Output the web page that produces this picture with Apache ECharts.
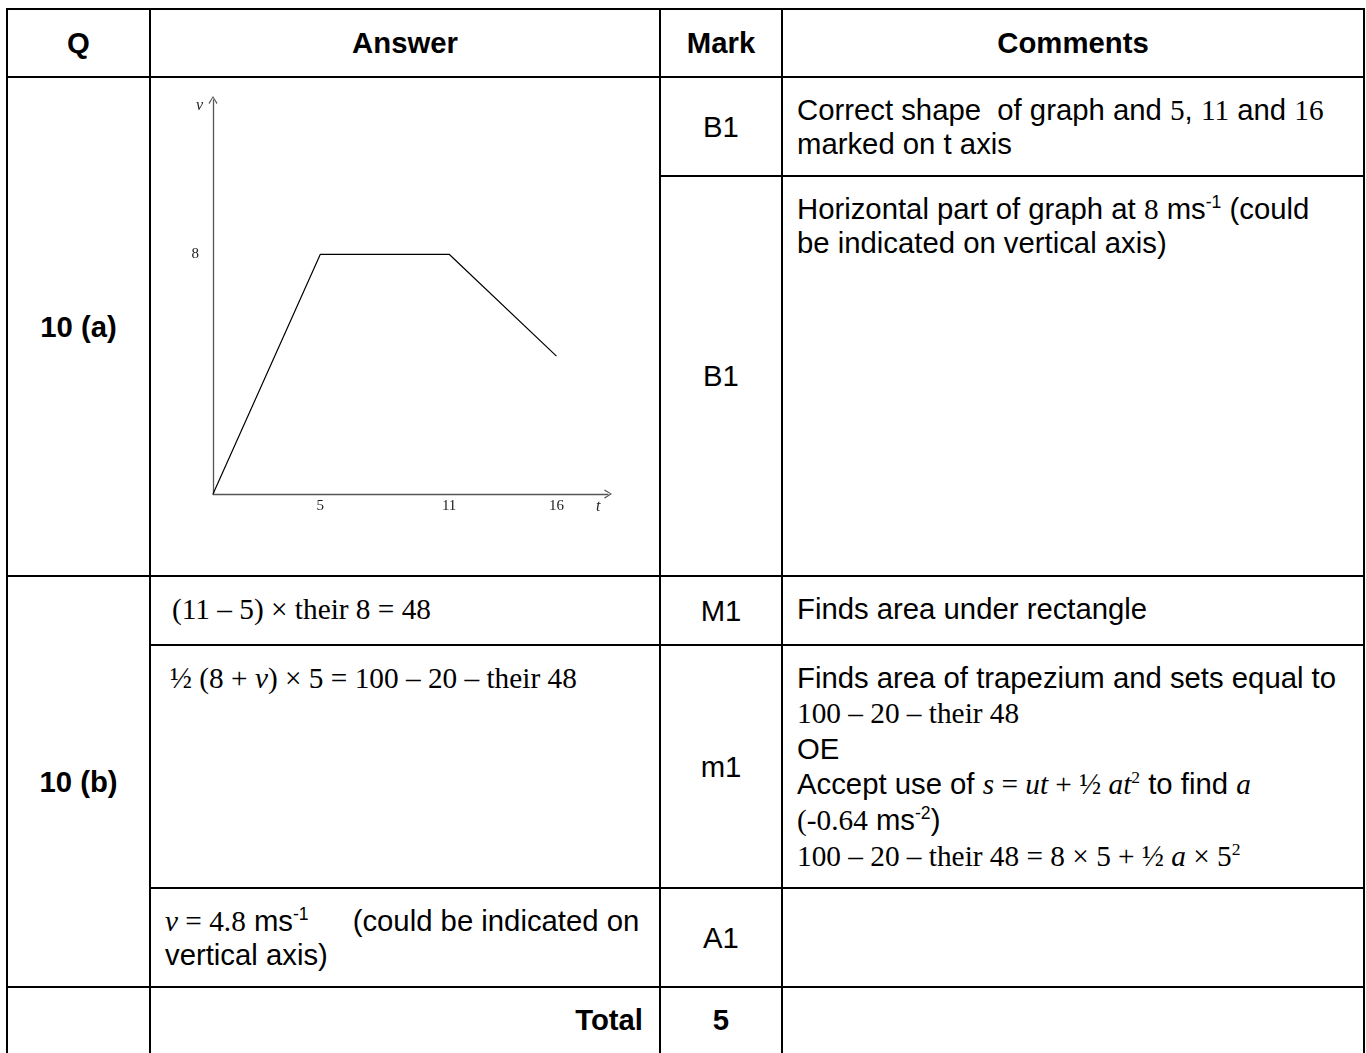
<!DOCTYPE html>
<html>
<head>
<meta charset="utf-8">
<script src="https://cdn.jsdelivr.net/npm/echarts@6/dist/echarts.min.js"></script>
<style>
  html, body { margin: 0; padding: 0; background: #fff; }
  body { width: 1366px; height: 1053px; overflow: hidden; position: relative; }
  .c {
    position: absolute; box-sizing: border-box; border: 2px solid #000;
    font-family: "Liberation Sans", Arial, sans-serif; font-size: 29.3px;
    line-height: 34px; color: #000;
  }
  .mid { display: flex; align-items: center; justify-content: center; }
  .b { font-weight: bold; }
  .tl { padding: 15px 0 0 14px; }
  .s { font-family: "Liberation Serif", "Times New Roman", serif; }
  .i { font-style: italic; }
  sup { font-size: 60%; line-height: 0; vertical-align: 0.62em; }
  #graph { position: absolute; left: 151px; top: 78px; width: 508px; height: 497px; }
</style>
</head>
<body>
  <!-- header -->
  <div class="c mid b" style="left:6px;top:8px;width:145px;height:70px">Q</div>
  <div class="c mid b" style="left:149px;top:8px;width:512px;height:70px">Answer</div>
  <div class="c mid b" style="left:659px;top:8px;width:124px;height:70px">Mark</div>
  <div class="c mid b" style="left:781px;top:8px;width:584px;height:70px">Comments</div>

  <!-- 10 (a) -->
  <div class="c mid b" style="left:6px;top:76px;width:145px;height:501px">10 (a)</div>
  <div class="c" style="left:149px;top:76px;width:512px;height:501px"></div>
  <div class="c mid" style="left:659px;top:76px;width:124px;height:101px">B1</div>
  <div class="c tl" style="left:781px;top:76px;width:584px;height:101px">Correct shape&nbsp; of graph and <span class="s">5</span>, <span class="s">11</span> and <span class="s">16</span><br>marked on t axis</div>
  <div class="c mid" style="left:659px;top:175px;width:124px;height:402px">B1</div>
  <div class="c tl" style="left:781px;top:175px;width:584px;height:402px">Horizontal part of graph at <span class="s">8</span> ms<sup>-1</sup> (could<br>be indicated on vertical axis)</div>

  <!-- 10 (b) -->
  <div class="c mid b" style="left:6px;top:575px;width:145px;height:413px">10 (b)</div>
  <div class="c tl s" style="left:149px;top:575px;width:512px;height:71px;padding-left:21px">(11 – 5) × their 8 = 48</div>
  <div class="c mid" style="left:659px;top:575px;width:124px;height:71px">M1</div>
  <div class="c tl" style="left:781px;top:575px;width:584px;height:71px">Finds area under rectangle</div>

  <div class="c tl s" style="left:149px;top:644px;width:512px;height:245px;padding-left:19px">½ (8 + <span class="i">v</span>) × 5 = 100 – 20 – their 48</div>
  <div class="c mid" style="left:659px;top:644px;width:124px;height:245px">m1</div>
  <div class="c tl" style="left:781px;top:644px;width:584px;height:245px;line-height:35px;padding-top:14px">Finds area of trapezium and sets equal to<br><span class="s">100 – 20 – their 48</span><br>OE<br>Accept use of <span class="s"><span class="i">s</span> = <span class="i">ut</span> + ½ <span class="i">at</span><sup>2</sup></span> to find <span class="s i">a</span><br><span class="s">(-0.64</span> ms<sup>-2</sup>)<br><span class="s">100 – 20 – their 48 = 8 × 5 + ½ <span class="i">a</span> × 5<sup>2</sup></span></div>

  <div class="c tl" style="left:149px;top:887px;width:512px;height:101px;padding-left:14px"><span class="s"><span class="i">v</span> = 4.8</span> ms<sup>-1</sup><span style="display:inline-block;width:44px"></span>(could be indicated on<br>vertical axis)</div>
  <div class="c mid" style="left:659px;top:887px;width:124px;height:101px">A1</div>
  <div class="c" style="left:781px;top:887px;width:584px;height:101px"></div>

  <!-- total -->
  <div class="c" style="left:6px;top:986px;width:145px;height:90px"></div>
  <div class="c tl b" style="left:149px;top:986px;width:512px;height:90px;text-align:right;padding-right:16px">Total</div>
  <div class="c tl b" style="left:659px;top:986px;width:124px;height:90px;text-align:center;padding-left:0">5</div>
  <div class="c" style="left:781px;top:986px;width:584px;height:90px"></div>

  <div id="graph"></div>

<script>
  // v-t sketch values
  const tPoints = [0, 5, 11, 16];
  const vPoints = [0, 8, 8, 4.6];
  const tLabels = [5, 11, 16];
  const vLabels = [8];

  const arrow = 'path://M5 0 L10 8 L9 9 L5 2 L1 9 L0 8 Z';
  const axisGrey = '#555';
  const labelFont = { fontFamily: 'Liberation Serif', fontSize: 15, color: '#222' };

  var chart = echarts.init(document.getElementById('graph'));
  var option = {
    animation: false,
    grid: { left: 62, top: 22, width: 395, height: 394 },
    xAxis: {
      type: 'value',
      min: 0,
      max: 18.4,
      interval: 1,
      name: 't',
      nameLocation: 'end',
      nameGap: -12,
      nameTextStyle: Object.assign({}, labelFont, { fontStyle: 'italic', fontSize: 16, align: 'left', verticalAlign: 'top', padding: [5, 0, 0, 0] }),
      axisLine: { lineStyle: { color: axisGrey, width: 1.3 }, symbol: ['none', arrow], symbolSize: [10, 8] },
      axisTick: { show: false },
      splitLine: { show: false },
      axisLabel: Object.assign({}, labelFont, {
        margin: 5,
        formatter: function (v) { return tLabels.indexOf(v) >= 0 ? String(v) : ''; }
      })
    },
    yAxis: {
      type: 'value',
      min: 0,
      max: 13.15,
      interval: 1,
      name: 'v',
      nameLocation: 'end',
      nameGap: -6,
      nameTextStyle: Object.assign({}, labelFont, { fontStyle: 'italic', fontSize: 16, align: 'right', verticalAlign: 'middle', padding: [0, 10, 0, 0] }),
      axisLine: { lineStyle: { color: axisGrey, width: 1.3 }, symbol: ['none', arrow], symbolSize: [10, 8] },
      axisTick: { show: false },
      splitLine: { show: false },
      axisLabel: Object.assign({}, labelFont, {
        margin: 14,
        formatter: function (v) { return vLabels.indexOf(v) >= 0 ? String(v) : ''; }
      })
    },
    series: [
      {
        type: 'line',
        data: tPoints.map(function (t, i) { return [t, vPoints[i]]; }),
        showSymbol: false,
        lineStyle: { color: '#000', width: 1.2 }
      }
    ]
  };
  chart.setOption(option);
</script>
</body>
</html>
